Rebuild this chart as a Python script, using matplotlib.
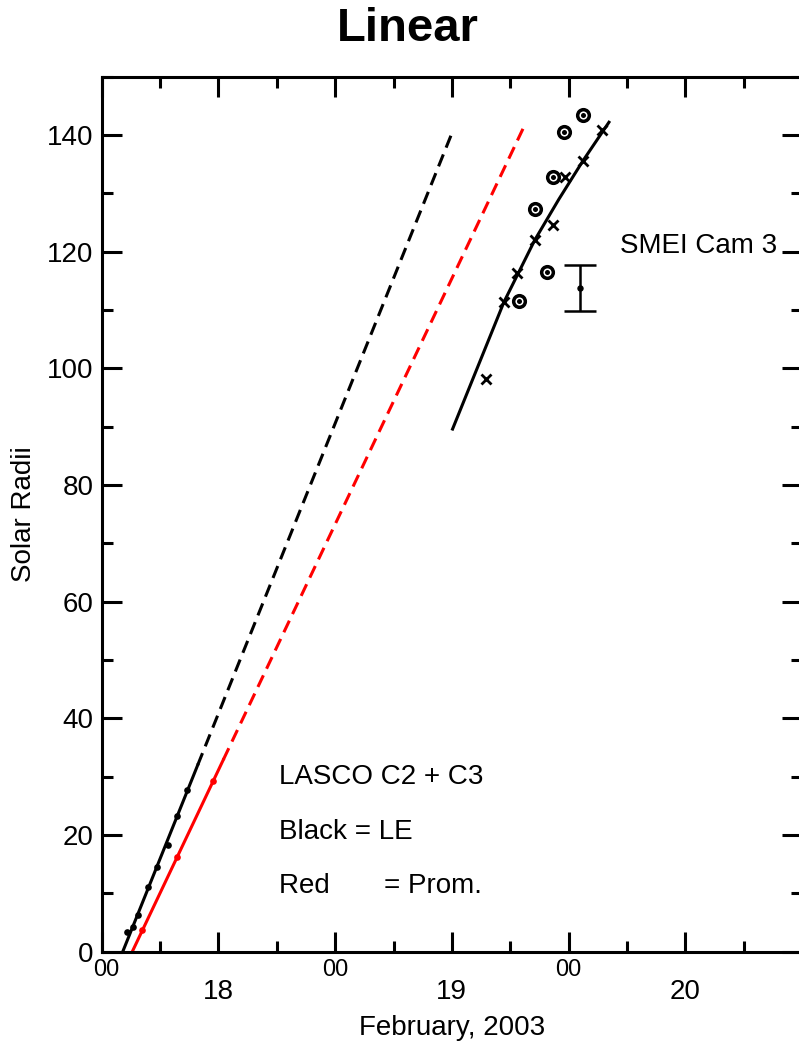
import matplotlib
matplotlib.use("Agg")
import matplotlib.pyplot as plt
from matplotlib.ticker import FixedLocator, FixedFormatter, MultipleLocator
from matplotlib.transforms import ScaledTranslation

plt.rcParams["font.family"] = ["Liberation Sans", "DejaVu Sans"]

# time axis: hours after 2003-02-18 00:00 UT
# LASCO C2 + C3, leading edge (black) and prominence (red)
le_t = [2.63, 3.25, 3.73, 4.79, 5.68, 6.78, 7.74, 8.77]
le_r = [3.3, 4.3, 6.3, 11.1, 14.6, 18.3, 23.3, 27.7]
prom_t = [4.14, 7.77, 11.47]
prom_r = [3.7, 16.3, 29.3]

# linear fits, solid over the data, dashed extrapolation
le_fit_t = [2.16, 9.87]
le_fit_r = [0.0, 32.0]
le_ext_t = [9.87, 36.07]
le_ext_r = [32.0, 140.6]
prom_fit_t = [3.14, 12.5]
prom_fit_r = [0.0, 32.9]
prom_ext_t = [12.5, 43.6]
prom_ext_r = [32.9, 142.1]

# SMEI Cam 3
smei_x_t = [39.49, 41.36, 42.74, 44.52, 46.40, 47.60, 49.48, 51.43]
smei_x_r = [98.1, 111.4, 116.3, 122.0, 124.6, 132.8, 135.6, 140.8]
smei_o_t = [42.87, 45.78, 44.52, 46.40, 47.50, 49.48]
smei_o_r = [111.6, 116.6, 127.3, 132.8, 140.5, 143.4]
smei_fit_t = [36.07, 41.36, 44.52, 47.0, 49.48, 52.15]
smei_fit_r = [89.6, 111.4, 122.0, 129.0, 135.6, 142.2]
err_t = 49.21
err_r = 113.8
err_dr = 4.0

xtick_pos = [0, 12, 24, 36, 48, 60, 72]
xtick_lab = ["00", "18", "00", "19", "00", "20", ""]

fig = plt.figure(figsize=(7.99, 10.44), dpi=100)
ax = fig.add_axes([0.1273, 0.0884, 0.8765, 0.8381])

dash = (4.2, 2.4)
ax.plot(le_fit_t, le_fit_r, color="black", lw=2.2)
ax.plot(le_ext_t, le_ext_r, color="black", lw=2.2, dashes=dash)
ax.plot(prom_fit_t, prom_fit_r, color="red", lw=2.2)
ax.plot(prom_ext_t, prom_ext_r, color="red", lw=2.2, dashes=dash)
ax.plot(le_t, le_r, "o", color="black", ms=4.8, mew=0)
ax.plot(prom_t, prom_r, "o", color="red", ms=4.8, mew=0)

ax.plot(smei_fit_t, smei_fit_r, color="black", lw=2.2)
ax.plot(smei_x_t, smei_x_r, "x", color="black", ms=7.4, mew=2.0)
ax.plot(smei_o_t, smei_o_r, "o", mfc="white", mec="black", ms=8.4, mew=2.5)
ax.plot(smei_o_t, smei_o_r, "o", color="black", ms=3.6, mew=0)
ax.errorbar([err_t], [err_r], yerr=[err_dr], fmt="o", color="black", ms=3.6,
            elinewidth=1.8, capsize=11.3, capthick=1.8)

ax.text(69.4, 120.9, "SMEI Cam 3", fontsize=20, ha="right", va="center")
ax.text(18.2, 30.0, "LASCO C2 + C3", fontsize=20, ha="left", va="center")
ax.text(18.2, 20.6, "Black = LE", fontsize=20, ha="left", va="center")
ax.text(18.2, 11.2, "Red       = Prom.", fontsize=20, ha="left", va="center")

ax.set_xlim(0, 72)
ax.set_ylim(0, 150)
for s in ax.spines.values():
    s.set_linewidth(2.2)

ax.yaxis.set_major_locator(MultipleLocator(20))
ax.yaxis.set_minor_locator(MultipleLocator(10))
ax.xaxis.set_major_locator(FixedLocator(xtick_pos))
ax.xaxis.set_major_formatter(FixedFormatter(xtick_lab))
ax.xaxis.set_minor_locator(MultipleLocator(6))
ax.tick_params(which="both", direction="in", top=True, right=True, width=2.2)
ax.tick_params(which="major", length=14.4)
ax.tick_params(which="minor", length=8)
ax.tick_params(axis="y", labelsize=20, pad=6)
ax.tick_params(axis="x", labelsize=17, pad=5)

for i, t in enumerate(ax.xaxis.get_major_ticks()):
    if i % 2 == 1:
        t.label1.set_fontsize(20)
        t.set_pad(20)
    else:
        t.label1.set_fontsize(17)
        t.set_pad(5)
# first "00" sits just right of the y-axis "0"
first = ax.xaxis.get_major_ticks()[0].label1
first.set_transform(first.get_transform() + ScaledTranslation(3.5 / 72, 0, fig.dpi_scale_trans))

ax.set_xlabel("February, 2003", fontsize=20)
ax.set_ylabel("Solar Radii", fontsize=20)
ax.xaxis.set_label_coords(0.5, -0.072)
ax.yaxis.set_label_coords(-0.092, 0.5)

fig.text(0.51, 0.972, "Linear", fontsize=34, fontweight="bold", ha="center", va="center")

fig.savefig("out.png", dpi=100)
